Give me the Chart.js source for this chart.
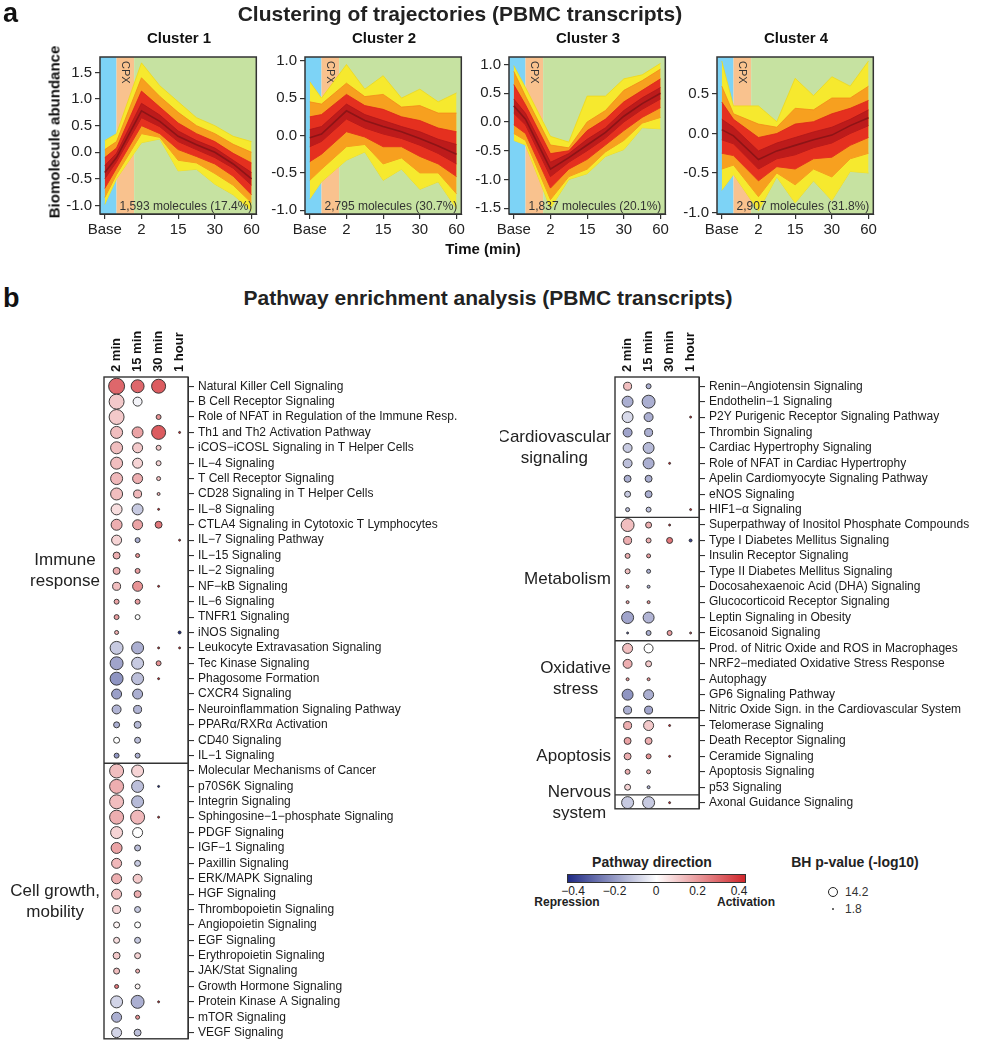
<!DOCTYPE html>
<html>
<head>
<meta charset="utf-8">
<title>PBMC transcripts</title>
<script src="https://cdn.jsdelivr.net/npm/chart.js@4.4.1/dist/chart.umd.min.js"></script>
<style>
  body { margin: 0; background: #fff; overflow: hidden; }
  #page { position: relative; width: 983px; height: 1050px; font-family: "Liberation Sans", Arial, sans-serif; color: #222; }
  #page canvas { position: absolute; }
  .t { position: absolute; white-space: nowrap; line-height: 1; }
</style>
</head>
<body>
<div id="page"></div>
<script>
const FONT = '"Liberation Sans", Arial, sans-serif';
Chart.defaults.font.family = FONT;
Chart.defaults.color = '#222';

// ---- panel a data ----
const timePoints = [0, 0.32, 1, 1.5, 2, 2.5, 3, 3.5, 4];
const timeTicks = [0, 1, 2, 3, 4];
const timeLabels = ['Base', '2', '15', '30', '60'];
const cpxStart = 0.32, cpxEnd = 0.8;

const clusterNames = ['Cluster 1', 'Cluster 2', 'Cluster 3', 'Cluster 4'];
const clusterCounts = ['1,593 molecules (17.4%)', '2,795 molecules (30.7%)', '1,837 molecules (20.1%)', '2,907 molecules (31.8%)'];
const clusterYTicks = [[-1, -0.5, 0, 0.5, 1, 1.5], [-1, -0.5, 0, 0.5, 1], [-1.5, -1, -0.5, 0, 0.5, 1], [-1, -0.5, 0, 0.5]];
const clusterYRange = [[-1.16, 1.79], [-1.05, 1.05], [-1.6, 1.13], [-1.02, 0.97]];

// envelopes, outer (yellow) to inner (dark red)
const c1Upper = [
  [0.22, 0.35, 1.68, 1.25, 0.95, 0.65, 0.5, 0.3, 0.2],
  [0.05, 0.2, 1.4, 1.05, 0.75, 0.5, 0.35, 0.15, 0.0],
  [-0.1, 0.08, 1.15, 0.85, 0.55, 0.35, 0.2, -0.02, -0.2],
  [-0.25, -0.02, 0.92, 0.7, 0.4, 0.22, 0.08, -0.15, -0.38]
];
const c1Lower = [
  [-0.98, -0.5, 0.18, 0.25, -0.35, -0.32, -0.6, -0.8, -1.1],
  [-0.85, -0.42, 0.35, 0.28, -0.15, -0.2, -0.4, -0.62, -0.95],
  [-0.68, -0.3, 0.5, 0.35, 0.05, -0.08, -0.22, -0.45, -0.8],
  [-0.5, -0.18, 0.65, 0.48, 0.2, 0.05, -0.1, -0.3, -0.62]
];
const c1Median = [-0.38, -0.1, 0.78, 0.58, 0.3, 0.14, 0.0, -0.22, -0.5];

const c2Upper = [
  [0.72, 0.5, 0.95, 0.62, 0.8, 0.5, 0.62, 0.45, 0.57],
  [0.45, 0.42, 0.7, 0.52, 0.55, 0.38, 0.4, 0.3, 0.3],
  [0.25, 0.28, 0.55, 0.4, 0.35, 0.25, 0.2, 0.1, 0.05],
  [0.08, 0.12, 0.42, 0.28, 0.2, 0.12, 0.05, -0.05, -0.12]
];
const c2Lower = [
  [-0.85, -0.62, -0.33, -0.22, -0.6, -0.45, -0.72, -0.62, -0.98],
  [-0.6, -0.45, -0.15, -0.12, -0.38, -0.3, -0.5, -0.5, -0.78],
  [-0.35, -0.25, 0.05, -0.02, -0.15, -0.15, -0.28, -0.38, -0.55],
  [-0.15, -0.08, 0.22, 0.1, 0.02, -0.04, -0.13, -0.24, -0.38]
];
const c2Median = [-0.03, 0.02, 0.33, 0.2, 0.12, 0.05, -0.04, -0.14, -0.25];

const c3Upper = [
  [0.98, 0.6, -0.25, -0.35, 0.45, 0.45, 0.75, 0.82, 1.02],
  [0.88, 0.45, -0.4, -0.45, 0.0, 0.2, 0.55, 0.72, 0.92],
  [0.65, 0.3, -0.55, -0.5, -0.15, 0.05, 0.35, 0.55, 0.75],
  [0.4, 0.15, -0.7, -0.55, -0.3, -0.1, 0.2, 0.42, 0.6]
];
const c3Lower = [
  [-0.32, -0.4, -1.5, -1.0, -0.9, -0.6, -0.48, -0.1, -0.12],
  [-0.2, -0.32, -1.35, -0.95, -0.82, -0.52, -0.32, -0.02, 0.08],
  [-0.05, -0.2, -1.15, -0.82, -0.65, -0.4, -0.15, 0.08, 0.25],
  [0.15, -0.05, -0.95, -0.7, -0.5, -0.28, 0.0, 0.22, 0.4]
];
const c3Median = [0.28, 0.05, -0.82, -0.62, -0.4, -0.18, 0.1, 0.32, 0.5];

const c4Upper = [
  [0.92, 0.35, 0.35, 0.15, 0.7, 0.48, 0.72, 0.6, 0.92],
  [0.6, 0.25, 0.12, 0.08, 0.32, 0.3, 0.45, 0.45, 0.6],
  [0.4, 0.18, -0.05, 0.0, 0.12, 0.15, 0.25, 0.32, 0.42],
  [0.18, 0.08, -0.22, -0.12, -0.05, 0.02, 0.08, 0.18, 0.3]
];
const c4Lower = [
  [-0.72, -0.52, -0.98, -0.55, -0.88, -0.6, -0.85, -0.48, -0.5],
  [-0.45, -0.4, -0.8, -0.5, -0.65, -0.45, -0.55, -0.32, -0.25],
  [-0.25, -0.28, -0.6, -0.42, -0.45, -0.32, -0.3, -0.15, -0.05],
  [-0.08, -0.13, -0.45, -0.32, -0.27, -0.18, -0.12, 0.0, 0.1]
];
const c4Median = [0.05, -0.03, -0.33, -0.22, -0.15, -0.08, -0.02, 0.1, 0.2];

const clusterUpper = [c1Upper, c2Upper, c3Upper, c4Upper];
const clusterLower = [c1Lower, c2Lower, c3Lower, c4Lower];
const clusterMedian = [c1Median, c2Median, c3Median, c4Median];

// ---- panel b data ----
const columnLabels = ['2 min', '15 min', '30 min', '1 hour'];

const leftPathways = [
  'Natural Killer Cell Signaling', 'B Cell Receptor Signaling', 'Role of NFAT in Regulation of the Immune Resp.',
  'Th1 and Th2 Activation Pathway', 'iCOS\u2212iCOSL Signaling in T Helper Cells', 'IL\u22124 Signaling',
  'T Cell Receptor Signaling', 'CD28 Signaling in T Helper Cells', 'IL\u22128 Signaling',
  'CTLA4 Signaling in Cytotoxic T Lymphocytes', 'IL\u22127 Signaling Pathway', 'IL\u221215 Signaling',
  'IL\u22122 Signaling', 'NF\u2212kB Signaling', 'IL\u22126 Signaling', 'TNFR1 Signaling', 'iNOS Signaling',
  'Leukocyte Extravasation Signaling', 'Tec Kinase Signaling', 'Phagosome Formation', 'CXCR4 Signaling',
  'Neuroinflammation Signaling Pathway', 'PPAR\u03b1/RXR\u03b1 Activation', 'CD40 Signaling', 'IL\u22121 Signaling',
  'Molecular Mechanisms of Cancer', 'p70S6K Signaling', 'Integrin Signaling', 'Sphingosine\u22121\u2212phosphate Signaling',
  'PDGF Signaling', 'IGF\u22121 Signaling', 'Paxillin Signaling', 'ERK/MAPK Signaling', 'HGF Signaling',
  'Thrombopoietin Signaling', 'Angiopoietin Signaling', 'EGF Signaling', 'Erythropoietin Signaling',
  'JAK/Stat Signaling', 'Growth Hormone Signaling', 'Protein Kinase A Signaling', 'mTOR Signaling', 'VEGF Signaling'
];
// pathway direction (z-like score) per column: 2 min, 15 min, 30 min, 1 hour
const leftDirection = [
  [0.28, 0.28, 0.3, null], [0.1, -0.02, null, null], [0.1, null, 0.2, null], [0.12, 0.17, 0.3, 0.4],
  [0.12, 0.1, 0.1, null], [0.12, 0.08, 0.08, null], [0.13, 0.15, 0.12, null], [0.12, 0.13, 0.15, null],
  [0.06, -0.1, 0.4, null], [0.15, 0.17, 0.25, null], [0.08, -0.15, null, 0.4], [0.15, 0.2, null, null],
  [0.15, 0.18, null, null], [0.12, 0.2, 0.4, null], [0.17, 0.18, null, null], [0.18, 0.0, null, null],
  [0.15, null, null, -0.4], [-0.1, -0.15, 0.4, 0.4], [-0.17, -0.1, 0.2, null], [-0.2, -0.12, 0.4, null],
  [-0.18, -0.15, null, null], [-0.14, -0.14, null, null], [-0.15, -0.13, null, null], [0.0, -0.12, null, null],
  [-0.2, -0.15, null, null],
  [0.12, 0.08, null, null], [0.15, -0.12, -0.4, null], [0.12, -0.13, null, null], [0.15, 0.13, 0.4, null],
  [0.08, 0.0, null, null], [0.17, -0.12, null, null], [0.13, -0.1, null, null], [0.15, 0.1, null, null],
  [0.12, 0.15, null, null], [0.08, -0.1, null, null], [0.02, 0.0, null, null], [0.06, -0.1, null, null],
  [0.1, 0.08, null, null], [0.12, 0.15, null, null], [0.25, 0.02, null, null], [-0.08, -0.15, 0.4, null],
  [-0.15, 0.2, null, null], [-0.08, -0.12, null, null]
];
// BH p-value (-log10)
const leftPvalue = [
  [23.5, 18.8, 20.4, null], [21.9, 12.6, null, null], [21.9, null, 6.4, null], [17.3, 15.7, 20.4, 1.8],
  [17.3, 14.2, 6.4, null], [17.3, 14.2, 6.4, null], [17.3, 14.2, 4.9, null], [17.3, 11.1, 3.3, null],
  [15.7, 15.7, 1.8, null], [15.7, 14.2, 9.5, null], [14.2, 6.4, null, 1.8], [9.5, 4.9, null, null],
  [9.5, 6.4, null, null], [11.1, 14.2, 1.8, null], [6.4, 6.4, null, null], [6.4, 6.4, null, null],
  [4.9, null, null, 3.3], [18.8, 17.3, 1.8, 1.8], [18.8, 17.3, 6.4, null], [18.8, 17.3, 1.8, null],
  [14.2, 14.2, null, null], [12.6, 11.1, null, null], [8.0, 9.5, null, null], [8.0, 8.0, null, null],
  [6.4, 6.4, null, null],
  [20.4, 17.3, null, null], [20.4, 17.3, 1.8, null], [20.4, 17.3, null, null], [20.4, 20.4, 1.8, null],
  [17.3, 14.2, null, null], [15.7, 8.0, null, null], [14.2, 8.0, null, null], [14.2, 12.6, null, null],
  [14.2, 9.5, null, null], [11.1, 8.0, null, null], [8.0, 8.0, null, null], [8.0, 8.0, null, null],
  [9.5, 8.0, null, null], [8.0, 4.9, null, null], [4.9, 6.4, null, null], [17.3, 18.8, 1.8, null],
  [14.2, 4.9, null, null], [14.2, 9.5, null, null]
];
const leftGroups = [
  { lines: ['Immune', 'response'], from: 0, to: 24 },
  { lines: ['Cell growth,', 'mobility'], from: 25, to: 42 }
];

const rightPathways = [
  'Renin\u2212Angiotensin Signaling', 'Endothelin\u22121 Signaling', 'P2Y Purigenic Receptor Signaling Pathway',
  'Thrombin Signaling', 'Cardiac Hypertrophy Signaling', 'Role of NFAT in Cardiac Hypertrophy',
  'Apelin Cardiomyocyte Signaling Pathway', 'eNOS Signaling', 'HIF1\u2212\u03b1 Signaling',
  'Superpathway of Inositol Phosphate Compounds', 'Type I Diabetes Mellitus Signaling', 'Insulin Receptor Signaling',
  'Type II Diabetes Mellitus Signaling', 'Docosahexaenoic Acid (DHA) Signaling', 'Glucocorticoid Receptor Signaling',
  'Leptin Signaling in Obesity', 'Eicosanoid Signaling',
  'Prod. of Nitric Oxide and ROS in Macrophages', 'NRF2\u2212mediated Oxidative Stress Response', 'Autophagy',
  'GP6 Signaling Pathway', 'Nitric Oxide Sign. in the Cardiovascular System',
  'Telomerase Signaling', 'Death Receptor Signaling', 'Ceramide Signaling', 'Apoptosis Signaling', 'p53 Signaling',
  'Axonal Guidance Signaling'
];
const rightDirection = [
  [0.12, -0.15, null, null], [-0.15, -0.15, null, null], [-0.07, -0.15, null, 0.4], [-0.17, -0.15, null, null],
  [-0.1, -0.13, null, null], [-0.12, -0.15, 0.4, null], [-0.15, -0.15, null, null], [-0.1, -0.15, null, null],
  [-0.12, -0.12, null, 0.4],
  [0.12, 0.15, 0.4, null], [0.15, 0.15, 0.25, -0.35], [0.15, 0.18, null, null], [0.12, -0.15, null, null],
  [0.18, -0.15, null, null], [0.18, 0.2, null, null], [-0.17, -0.14, null, null], [-0.3, -0.15, 0.18, 0.3],
  [0.12, 0.0, null, null], [0.15, 0.1, null, null], [0.2, 0.2, null, null], [-0.2, -0.15, null, null],
  [-0.15, -0.17, null, null],
  [0.15, 0.1, 0.4, null], [0.17, 0.15, null, null], [0.15, 0.2, 0.4, null], [0.15, 0.15, null, null],
  [0.08, -0.15, null, null],
  [-0.1, -0.1, 0.4, null]
];
const rightPvalue = [
  [11.1, 6.4, null, null], [15.7, 18.8, null, null], [15.7, 12.6, null, 1.8], [12.6, 11.1, null, null],
  [12.6, 15.7, null, null], [12.6, 15.7, 1.8, null], [9.5, 9.5, null, null], [8.0, 9.5, null, null],
  [4.9, 6.4, null, 1.8],
  [18.8, 8.0, 1.8, null], [11.1, 6.4, 8.0, 3.3], [6.4, 4.9, null, null], [6.4, 4.9, null, null],
  [3.3, 3.3, null, null], [3.3, 3.3, null, null], [17.3, 15.7, null, null], [1.8, 6.4, 6.4, 1.8],
  [14.2, 12.6, null, null], [12.6, 8.0, null, null], [3.3, 3.3, null, null], [15.7, 14.2, null, null],
  [11.1, 11.1, null, null],
  [11.1, 14.2, 1.8, null], [9.5, 9.5, null, null], [9.5, 6.4, 1.8, null], [6.4, 4.9, null, null],
  [8.0, 3.3, null, null],
  [17.3, 17.3, 1.8, null]
];
const rightGroups = [
  { lines: ['Cardiovascular', 'signaling'], from: 0, to: 8 },
  { lines: ['Metabolism'], from: 9, to: 16 },
  { lines: ['Oxidative', 'stress'], from: 17, to: 21 },
  { lines: ['Apoptosis'], from: 22, to: 26 },
  { lines: ['Nervous', 'system'], from: 27, to: 27 }
];

const directionTicks = [-0.4, -0.2, 0, 0.2, 0.4];
const sizeLegendValues = [14.2, 1.8];

// ---- helpers ----
const page = document.getElementById('page');
const NAVY = [31, 42, 133], RED = [208, 38, 43];

function addText(str, x, y, css, transform) {
  const el = document.createElement('div');
  el.className = 't';
  el.textContent = str;
  el.style.cssText += css || '';
  el.style.left = x + 'px';
  el.style.top = y + 'px';
  el.style.transform = transform || 'translate(-50%,-50%)';
  page.appendChild(el);
  return el;
}

function addCanvas(left, top, w, h) {
  const c = document.createElement('canvas');
  c.width = w; c.height = h;
  c.style.left = left + 'px'; c.style.top = top + 'px';
  c.style.width = w + 'px'; c.style.height = h + 'px';
  page.appendChild(c);
  return c;
}

function dirColor(d) {
  const t = Math.max(-1, Math.min(1, d / 0.4));
  const c = t < 0 ? NAVY : RED;
  const f = Math.abs(t);
  return `rgb(${Math.round(255 + (c[0] - 255) * f)},${Math.round(255 + (c[1] - 255) * f)},${Math.round(255 + (c[2] - 255) * f)})`;
}

function radiusFor(p) {
  return 0.42 + 0.3226 * p;
}

function pts(values) {
  return values.map((v, i) => ({ x: timePoints[i], y: v }));
}

// ---- panel a ----
const bandFill = ['#f6e92e', '#f7a01f', '#e5301f', '#bd1b1b'];
const bandLine = ['#efd81a', '#f38a1a', '#dc241c', '#ad1719'];

const trajBackground = {
  id: 'trajBackground',
  beforeDatasetsDraw(chart) {
    const { ctx, chartArea: a, scales: { x } } = chart;
    const x1 = x.getPixelForValue(cpxStart), x2 = x.getPixelForValue(cpxEnd);
    ctx.save();
    ctx.fillStyle = '#7dd3f6'; ctx.fillRect(a.left, a.top, x1 - a.left, a.height);
    ctx.fillStyle = '#f9c28e'; ctx.fillRect(x1, a.top, x2 - x1, a.height);
    ctx.fillStyle = '#c6e2a1'; ctx.fillRect(x2, a.top, a.right - x2, a.height);
    ctx.translate((x1 + x2) / 2, a.top + 4);
    ctx.rotate(Math.PI / 2);
    ctx.fillStyle = '#333';
    ctx.font = '11px ' + FONT;
    ctx.textBaseline = 'middle';
    ctx.fillText('CPX', 0, 0);
    ctx.restore();
  },
  afterDatasetsDraw(chart, args, opts) {
    const { ctx, chartArea: a } = chart;
    ctx.save();
    ctx.fillStyle = '#333';
    ctx.font = '12px ' + FONT;
    ctx.textAlign = 'right';
    ctx.textBaseline = 'bottom';
    ctx.fillText(opts.count, a.right - 4, a.bottom - 1);
    ctx.strokeStyle = '#333';
    ctx.lineWidth = 1.5;
    ctx.strokeRect(a.left, a.top, a.width, a.height);
    ctx.restore();
  }
};

const frameLefts = [100, 305, 509, 717];
const frameW = 158, frameTop = 51, frameH = 163;

clusterNames.forEach((name, k) => {
  const yAxisW = 42, xAxisH = 30, padTop = 6, padRight = 4;
  const cv = addCanvas(frameLefts[k] - yAxisW, frameTop - padTop, yAxisW + frameW + padRight, padTop + frameH + xAxisH);
  const datasets = [];
  clusterUpper[k].forEach((hi, b) => {
    datasets.push({ data: pts(hi), backgroundColor: bandFill[b], borderColor: bandLine[b], borderWidth: 0.8, fill: '+1', order: 10 - b });
    datasets.push({ data: pts(clusterLower[k][b]), borderColor: bandLine[b], borderWidth: 0.8, fill: false, order: 10 - b });
  });
  datasets.push({ data: pts(clusterMedian[k]), borderColor: '#8d1416', borderWidth: 1.6, fill: false, order: 0 });

  new Chart(cv, {
    type: 'line',
    data: { datasets },
    options: {
      responsive: false, animation: false, devicePixelRatio: 1, events: [],
      layout: { padding: { left: 0, top: padTop, right: padRight, bottom: 0 } },
      elements: { point: { radius: 0 }, line: { tension: 0 } },
      plugins: { legend: { display: false }, tooltip: { enabled: false }, trajBackground: { count: clusterCounts[k] } },
      scales: {
        x: {
          type: 'linear', min: -0.13, max: 4.13,
          afterBuildTicks: s => { s.ticks = timeTicks.map(v => ({ value: v })); },
          afterFit: s => { s.height = xAxisH; },
          grid: { drawOnChartArea: false, color: '#333', tickLength: 5, lineWidth: 1.2 },
          border: { color: '#333' },
          ticks: { autoSkip: false, maxRotation: 0, padding: 2, color: '#222', font: { size: 15 },
            callback: v => timeLabels[timeTicks.indexOf(v)] }
        },
        y: {
          type: 'linear', min: clusterYRange[k][0], max: clusterYRange[k][1],
          afterBuildTicks: s => { s.ticks = clusterYTicks[k].map(v => ({ value: v })); },
          afterFit: s => { s.width = yAxisW; },
          grid: { drawOnChartArea: false, color: '#333', tickLength: 5, lineWidth: 1.2 },
          border: { color: '#333' },
          ticks: { padding: 3, color: '#222', font: { size: 15 }, callback: v => v.toFixed(1) }
        }
      }
    },
    plugins: [trajBackground]
  });
  addText(name, frameLefts[k] + frameW / 2, 37, 'font-weight:bold;font-size:15px;color:#111;');
});

addText('a', 3, 0, 'font-weight:bold;font-size:27px;color:#111;', 'none');
addText('Clustering of trajectories (PBMC transcripts)', 460, 13, 'font-weight:bold;font-size:21px;color:#222;');
addText('Biomolecule abundance', 54, 132, 'font-weight:bold;font-size:15px;color:#111;', 'translate(-50%,-50%) rotate(-90deg)');
addText('Time (min)', 483, 248, 'font-weight:bold;font-size:15px;color:#111;');

// ---- panel b ----
function bubblePoints(dir, pval) {
  const out = [];
  dir.forEach((row, i) => row.forEach((d, j) => {
    if (d !== null) out.push({ x: j, y: i, r: radiusFor(pval[i][j]), d });
  }));
  return out;
}

const bubbleFrame = {
  id: 'bubbleFrame',
  afterDraw(chart, args, opts) {
    const { ctx, chartArea: a, scales: { x, y } } = chart;
    ctx.save();
    ctx.strokeStyle = '#333';
    ctx.lineWidth = 1.4;
    ctx.strokeRect(a.left, a.top, a.width, a.height);
    opts.groups.slice(1).forEach(g => {
      const yy = y.getPixelForValue(g.from - 0.5);
      ctx.beginPath(); ctx.moveTo(a.left, yy); ctx.lineTo(a.right, yy); ctx.stroke();
    });
    // column headers
    ctx.fillStyle = '#111';
    ctx.font = 'bold 13px ' + FONT;
    ctx.textAlign = 'left';
    ctx.textBaseline = 'middle';
    columnLabels.forEach((l, i) => {
      ctx.save();
      ctx.translate(x.getPixelForValue(i), a.top - 5);
      ctx.rotate(-Math.PI / 2);
      ctx.fillText(l, 0, 0);
      ctx.restore();
    });
    // group labels
    ctx.font = '17px ' + FONT;
    ctx.fillStyle = '#222';
    ctx.textAlign = 'center';
    opts.groups.forEach(g => {
      const w = Math.max(...g.lines.map(s => ctx.measureText(s).width));
      const cx = a.left - 4 - w / 2;
      const cy = y.getPixelForValue((g.from + g.to) / 2);
      g.lines.forEach((s, i) => ctx.fillText(s, cx, cy + (i - (g.lines.length - 1) / 2) * 21));
    });
    ctx.restore();
  }
};

function bubbleChart(canvas, names, dir, pval, groups, axisW, padLeft, padBottom) {
  return new Chart(canvas, {
    type: 'bubble',
    data: {
      datasets: [{
        data: bubblePoints(dir, pval),
        backgroundColor: c => (c.raw ? dirColor(c.raw.d) : '#fff'),
        borderColor: '#2a2a2a',
        borderWidth: 0.9
      }]
    },
    options: {
      responsive: false, animation: false, devicePixelRatio: 1, events: [],
      layout: { padding: { left: padLeft, top: 57, right: 0, bottom: padBottom } },
      plugins: { legend: { display: false }, tooltip: { enabled: false }, bubbleFrame: { groups } },
      scales: {
        x: { type: 'linear', display: false, min: -0.6, max: 3.4 },
        y: {
          type: 'linear', position: 'right', reverse: true, min: -0.6, max: names.length - 0.6,
          afterBuildTicks: s => { s.ticks = names.map((_, i) => ({ value: i })); },
          afterFit: s => { s.width = axisW; },
          grid: { drawOnChartArea: false, color: '#333', tickLength: 6, lineWidth: 1.1 },
          border: { color: '#333' },
          ticks: { autoSkip: false, padding: 4, color: '#1a1a1a', font: { size: 12 }, callback: v => names[v] }
        }
      }
    },
    plugins: [bubbleFrame]
  });
}

bubbleChart(addCanvas(0, 320, 104 + 84 + 300, 730), leftPathways, leftDirection, leftPvalue, leftGroups, 300, 104, 1);
bubbleChart(addCanvas(500, 320, 115 + 84 + 280, 500), rightPathways, rightDirection, rightPvalue, rightGroups, 280, 115, 7);

addText('b', 3, 285, 'font-weight:bold;font-size:27px;color:#111;', 'none');
addText('Pathway enrichment analysis (PBMC transcripts)', 488, 297, 'font-weight:bold;font-size:21px;color:#222;');

// ---- legends ----
addText('Pathway direction', 652, 862, 'font-weight:bold;font-size:14px;color:#222;');
const bar = document.createElement('div');
bar.style.cssText = `position:absolute;left:567px;top:874px;width:179px;height:9px;border:1px solid #333;box-sizing:border-box;` +
  `background:linear-gradient(to right, ${dirColor(-0.4)}, ${dirColor(0)}, ${dirColor(0.4)});`;
page.appendChild(bar);
directionTicks.forEach(v => {
  addText(v === 0 ? '0' : (v < 0 ? '\u2212' : '') + Math.abs(v).toFixed(1), 656 + v * 207.5, 891, 'font-size:12px;color:#222;');
});
addText('Repression', 567, 902, 'font-weight:bold;font-size:12px;color:#222;');
addText('Activation', 746, 902, 'font-weight:bold;font-size:12px;color:#222;');

addText('BH p-value (-log10)', 855, 862, 'font-weight:bold;font-size:14px;color:#222;');
sizeLegendValues.forEach((p, i) => {
  const r = radiusFor(p), cy = 892 + i * 17;
  const dot = document.createElement('div');
  dot.style.cssText = `position:absolute;left:${833 - r}px;top:${cy - r}px;width:${2 * r}px;height:${2 * r}px;border-radius:50%;` +
    `box-sizing:border-box;border:1px solid #222;background:${i === 0 ? '#fff' : '#222'};`;
  page.appendChild(dot);
  addText(String(p), 845, cy, 'font-size:12px;color:#333;', 'translate(0,-50%)');
});
</script>
</body>
</html>
